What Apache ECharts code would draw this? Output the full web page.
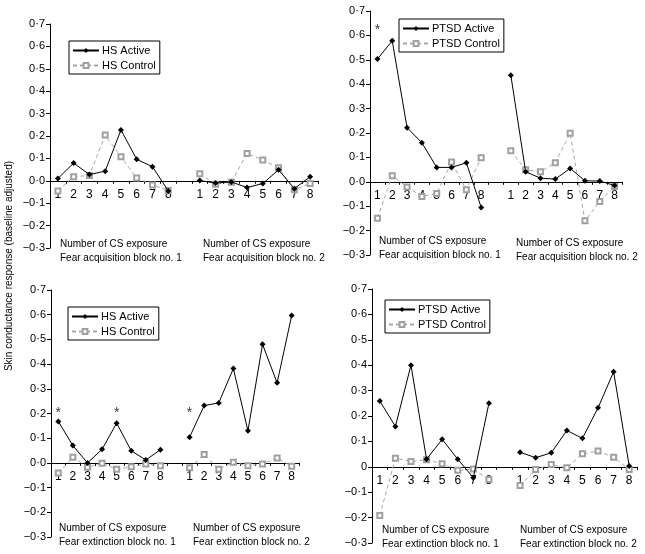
<!DOCTYPE html>
<html>
<head>
<meta charset="utf-8">
<script src="https://cdn.jsdelivr.net/npm/echarts@6/dist/echarts.min.js"></script>
<style>
html,body{margin:0;padding:0;background:#fff;}
#chart{width:645px;height:554px;}
</style>
</head>
<body>
<div id="chart"></div>
<script>
// ---- data ----
const xCategories = ['1','2','3','4','5','6','7','8','','1','2','3','4','5','6','7','8'];
const yTickLabels = ['−0·3','−0·2','−0·1','0·0','0·1','0·2','0·3','0·4','0·5','0·6','0·7'];
const yTickLabelsBR = ['−0·3','−0·2','−0·1','0','0·1','0·2','0·3','0·4','0·5','0·6','0·7'];

// HS, fear acquisition
const hsAcqActive1  = [0.01, 0.079, 0.028, 0.043, 0.227, 0.096, 0.063, -0.045];
const hsAcqActive2  = [0.001, -0.01, -0.005, -0.03, -0.012, 0.049, -0.035, 0.018];
const hsAcqControl1 = [-0.045, 0.018, 0.024, 0.204, 0.107, 0.013, -0.019, -0.043];
const hsAcqControl2 = [0.031, -0.015, -0.006, 0.122, 0.093, 0.058, -0.04, -0.012];

// PTSD, fear acquisition
const ptAcqActive1  = [0.503, 0.578, 0.222, 0.160, 0.059, 0.059, 0.078, -0.105];
const ptAcqActive2  = [0.437, 0.041, 0.015, 0.011, 0.055, 0.004, 0.003, -0.015];
const ptAcqControl1 = [-0.149, 0.025, -0.021, -0.06, -0.048, 0.081, -0.033, 0.099];
const ptAcqControl2 = [0.127, 0.049, 0.041, 0.078, 0.199, -0.160, -0.081, -0.019];

// HS, fear extinction
const hsExtActive1  = [0.168, 0.070, 0.0, 0.055, 0.161, 0.049, 0.012, 0.053];
const hsExtActive2  = [0.104, 0.232, 0.243, 0.382, 0.130, 0.480, 0.324, 0.597];
const hsExtControl1 = [-0.041, 0.023, -0.018, -0.001, -0.026, -0.016, -0.004, -0.012];
const hsExtControl2 = [-0.020, 0.034, -0.026, 0.003, -0.012, -0.004, 0.020, -0.014];

// PTSD, fear extinction
const ptExtActive1  = [0.259, 0.159, 0.400, 0.030, 0.108, 0.030, -0.043, 0.250];
const ptExtActive2  = [0.057, 0.036, 0.055, 0.143, 0.112, 0.232, 0.374, 0.003];
const ptExtControl1 = [-0.192, 0.034, 0.021, 0.028, 0.012, -0.014, -0.009, -0.05];
const ptExtControl2 = [-0.074, -0.011, 0.009, -0.004, 0.051, 0.062, 0.038, -0.011];

// significance markers: [category index, y]
const starsPtAcq = [[0, 0.62]];
const starsHsExt = [[0, 0.2], [4, 0.2], [9, 0.2]];

const yTitle = 'Skin conductance response (baseline adjusted)';
const blockLabelsAcq = ['Number of CS exposure\nFear acquisition block no. 1', 'Number of CS exposure\nFear acquisition block no. 2'];
const blockLabelsExt = ['Number of CS exposure\nFear extinction block no. 1', 'Number of CS exposure\nFear extinction block no. 2'];

// ---- build ----
const FONT = '"Liberation Sans", Arial, Helvetica, sans-serif';
const Y_MIN = -0.3, Y_MAX = 0.7;
function join(a, b) { return a.concat([null], b); }

const grids = [
  {left: 50,  top: 24,  width: 268, height: 224},
  {left: 370, top: 11,  width: 252, height: 244},
  {left: 51,  top: 290, width: 248, height: 247},
  {left: 372, top: 289, width: 265, height: 254}
];

function xAxisFor(i) {
  // place the category axis on the y = 0 line
  const shift = -grids[i].height * (0 - Y_MIN) / (Y_MAX - Y_MIN);
  return {
    type: 'category', gridIndex: i, data: xCategories, boundaryGap: true,
    position: 'bottom', offset: shift,
    axisLine: {onZero: false, lineStyle: {color: '#000', width: 1}},
    axisTick: {show: true, length: 3, lineStyle: {color: '#000'}},
    axisLabel: {color: '#000', fontSize: 12, fontFamily: FONT, margin: 8, interval: 0},
    splitLine: {show: false}
  };
}
function yAxisFor(i, labels) {
  return {
    type: 'value', gridIndex: i, min: Y_MIN, max: Y_MAX, interval: 0.1,
    axisLine: {show: true, onZero: false, lineStyle: {color: '#000', width: 1}},
    axisTick: {show: true, length: 4, lineStyle: {color: '#000'}},
    axisLabel: {color: '#000', fontSize: 11, fontFamily: FONT, margin: 5,
      formatter: v => labels[Math.round((v - Y_MIN) * 10)]},
    splitLine: {show: false}
  };
}
function activeSeries(name, i, data) {
  return {
    name, type: 'line', xAxisIndex: i, yAxisIndex: i, data,
    symbol: 'diamond', symbolSize: 6, showAllSymbol: true,
    lineStyle: {color: '#000', width: 1}, itemStyle: {color: '#000'},
    z: 3, animation: false
  };
}
function controlSeries(name, i, data) {
  return {
    name, type: 'line', xAxisIndex: i, yAxisIndex: i, data,
    symbol: 'emptyRect', symbolSize: 5, showAllSymbol: true,
    lineStyle: {color: '#a8a8a8', width: 1, type: [4, 3]}, itemStyle: {color: '#a0a0a0', borderWidth: 1},
    z: 2, animation: false
  };
}
function starSeries(i, data) {
  return {
    type: 'scatter', xAxisIndex: i, yAxisIndex: i, data, symbolSize: 1,
    itemStyle: {color: 'rgba(0,0,0,0)'},
    label: {show: true, position: 'inside', formatter: '*', color: '#000', fontSize: 14, fontFamily: FONT},
    silent: true, animation: false
  };
}
function legendFor(names, left, top) {
  return {
    data: names, orient: 'vertical', left, top,
    borderColor: '#000', borderWidth: 1, backgroundColor: '#fff',
    padding: [4, 4, 3, 3], itemGap: 4, itemWidth: 26, itemHeight: 6,
    textStyle: {color: '#000', fontSize: 11, fontFamily: FONT, padding: [0, 0, 0, -2]},
    selectedMode: false
  };
}
function blockText(x, y, text) {
  return {type: 'text', left: x, top: y, style: {text, fill: '#000', font: '10px ' + FONT, lineHeight: 14}};
}

const option = {
  backgroundColor: '#fff',
  animation: false,
  grid: grids,
  xAxis: [0, 1, 2, 3].map(xAxisFor),
  yAxis: [yAxisFor(0, yTickLabels), yAxisFor(1, yTickLabels), yAxisFor(2, yTickLabels), yAxisFor(3, yTickLabelsBR)],
  legend: [
    legendFor(['HS Active', 'HS Control'], 69, 41),
    legendFor(['PTSD Active', 'PTSD Control'], 399, 19),
    legendFor(['HS Active', 'HS Control'], 68, 307),
    legendFor(['PTSD Active', 'PTSD Control'], 385, 300)
  ],
  series: [
    controlSeries('HS Control', 0, join(hsAcqControl1, hsAcqControl2)),
    activeSeries('HS Active', 0, join(hsAcqActive1, hsAcqActive2)),
    controlSeries('PTSD Control', 1, join(ptAcqControl1, ptAcqControl2)),
    activeSeries('PTSD Active', 1, join(ptAcqActive1, ptAcqActive2)),
    controlSeries('HS Control', 2, join(hsExtControl1, hsExtControl2)),
    activeSeries('HS Active', 2, join(hsExtActive1, hsExtActive2)),
    controlSeries('PTSD Control', 3, join(ptExtControl1, ptExtControl2)),
    activeSeries('PTSD Active', 3, join(ptExtActive1, ptExtActive2)),
    starSeries(1, starsPtAcq),
    starSeries(2, starsHsExt)
  ],
  graphic: [
    {type: 'text', x: 4, y: 266, rotation: Math.PI / 2,
      style: {text: yTitle, fill: '#000', font: '10px ' + FONT, align: 'center', verticalAlign: 'top'}},
    blockText(60, 237, blockLabelsAcq[0]),
    blockText(203, 237, blockLabelsAcq[1]),
    blockText(379, 234, blockLabelsAcq[0]),
    blockText(516, 236, blockLabelsAcq[1]),
    blockText(59, 521, blockLabelsExt[0]),
    blockText(193, 521, blockLabelsExt[1]),
    blockText(382, 523, blockLabelsExt[0]),
    blockText(520, 523, blockLabelsExt[1])
  ]
};

const chart = echarts.init(document.getElementById('chart'), null, {renderer: 'canvas'});
chart.setOption(option);
</script>
</body>
</html>
